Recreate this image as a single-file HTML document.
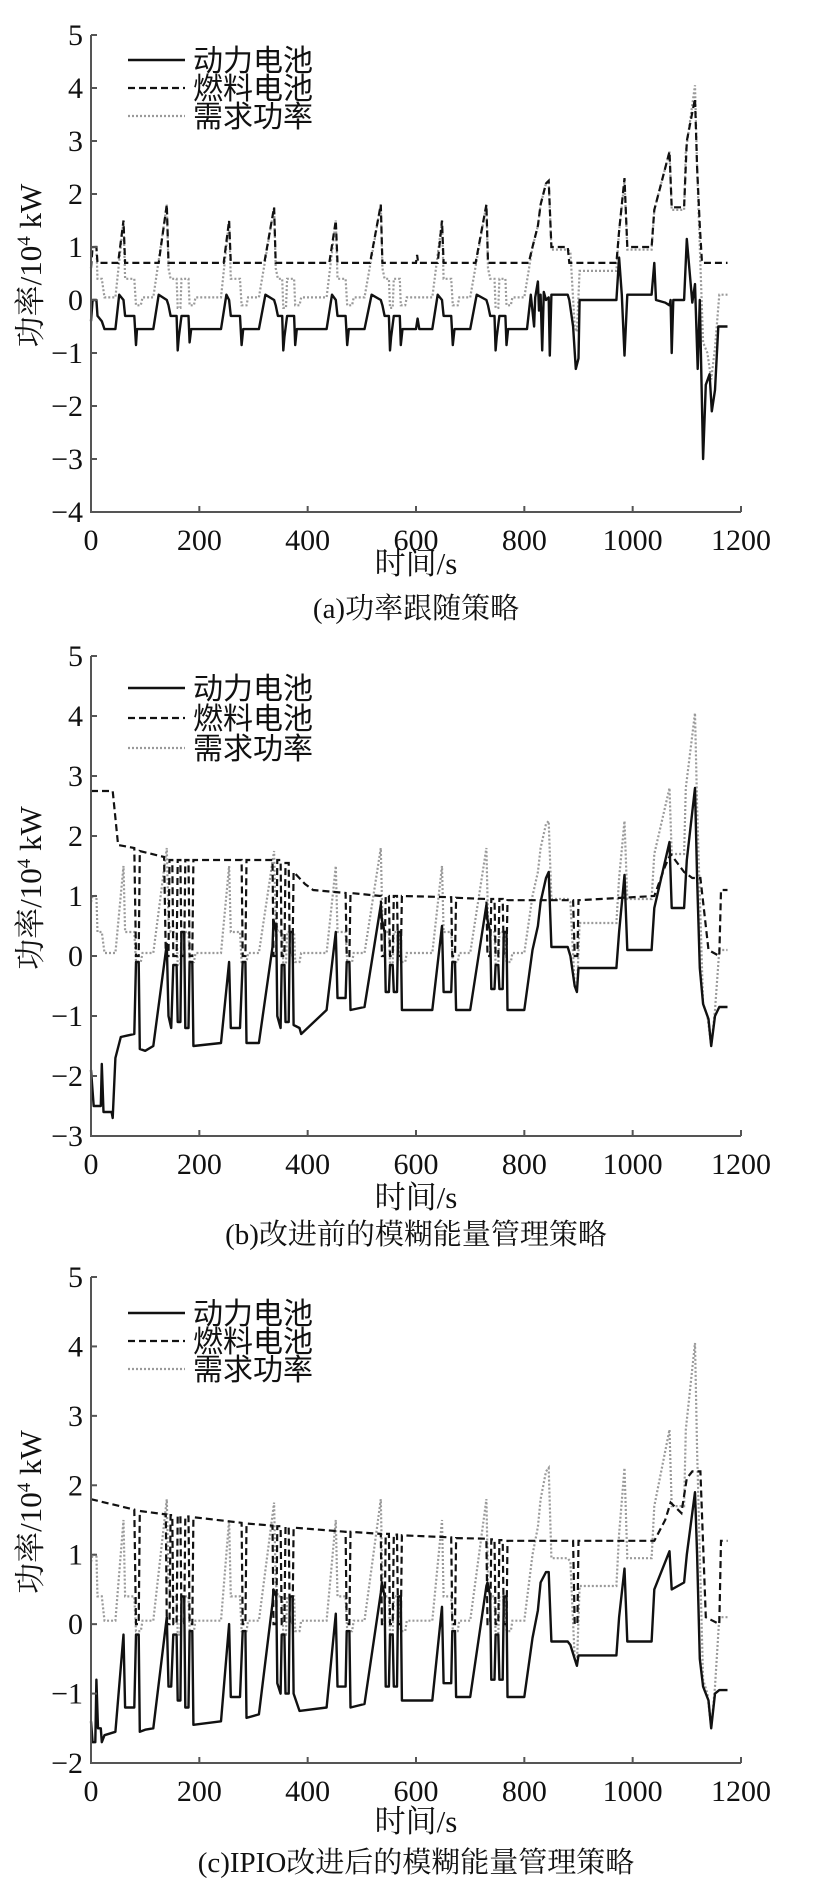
<!DOCTYPE html>
<html><head><meta charset="utf-8">
<style>
html,body{margin:0;padding:0;background:#fff;}
svg{display:block;}
text{font-family:"Liberation Serif","Noto Serif CJK SC","Noto Sans CJK SC",serif;fill:#111;}
</style></head>
<body>
<svg id="fig" width="838" height="1889" viewBox="0 0 838 1889" xmlns="http://www.w3.org/2000/svg"></svg>
<script>
const xTicks = [0,200,400,600,800,1000,1200];
const yTicksA = [-4,-3,-2,-1,0,1,2,3,4,5];
const yTicksB = [-3,-2,-1,0,1,2,3,4,5];
const yTicksC = [-2,-1,0,1,2,3,4,5];
const legendLabels = ["动力电池","燃料电池","需求功率"];
const captions = ["(a)功率跟随策略","(b)改进前的模糊能量管理策略","(c)IPIO改进后的模糊能量管理策略"];

const demand = [[0,0.9],[3,1.0],[10,1.0],[12,0.4],[20,0.4],[25,0.05],[45,0.05],[60,1.5],[63,0.4],[80,0.4],[83,-0.1],[92,-0.1],[95,0.05],[115,0.05],[140,1.8],[143,0.6],[147,0.4],[158,0.4],[160,-0.15],[165,-0.15],[167,0.4],[180,0.4],[182,-0.1],[190,-0.1],[193,0.05],
[240,0.05],[255,1.5],[258,0.4],[275,0.4],[278,-0.1],[287,-0.1],[290,0.05],[310,0.05],[338,1.75],[341,0.6],[345,0.4],[353,0.4],[355,-0.15],[360,-0.15],[362,0.4],[375,0.4],[377,-0.1],[385,-0.1],[388,0.05],
[435,0.05],[452,1.5],[455,0.4],[470,0.4],[473,-0.1],[482,-0.1],[485,0.05],[505,0.05],[535,1.8],[538,0.6],[542,0.4],[550,0.4],[552,-0.15],[557,-0.15],[559,0.4],[570,0.4],[572,-0.1],[580,-0.1],[583,0.05],
[630,0.05],[648,1.5],[651,0.4],[665,0.4],[668,-0.1],[677,-0.1],[680,0.05],[700,0.05],[730,1.8],[733,0.6],[737,0.4],[745,0.4],[747,-0.15],[752,-0.15],[754,0.4],[765,0.4],[767,-0.1],[775,-0.1],[778,0.05],[800,0.05],
[815,1.0],[825,1.4],[830,1.8],[840,2.2],[845,2.25],[850,0.95],[880,0.95],[885,0.9],[893,-0.5],[897,-0.6],[902,0.55],[970,0.55],[975,1.3],[985,2.25],[990,0.95],[1035,0.95],[1040,1.7],[1068,2.8],[1072,1.7],[1095,1.7],[1098,2.8],[1115,4.05],[1119,2.5],[1124,1.0],[1130,-0.8],[1138,-1.0],[1145,-1.5],[1152,-0.9],[1160,0.1],[1175,0.1]];

const fuelA = [[0,0.6],[3,1.0],[10,1.0],[12,0.7],[50,0.7],[60,1.5],[63,0.7],[125,0.7],[140,1.8],[143,0.7],[245,0.7],[255,1.5],[258,0.7],[320,0.7],[338,1.75],[341,0.7],[440,0.7],[452,1.5],[455,0.7],[515,0.7],[535,1.8],[538,0.7],[600,0.7],[602,0.85],[604,0.7],[640,0.7],[648,1.5],[651,0.7],[710,0.7],[730,1.8],[733,0.7],[808,0.7],[815,1.0],[825,1.4],[830,1.8],[840,2.2],[845,2.25],[850,1.0],[880,1.0],[883,0.7],[970,0.7],[975,1.3],[985,2.3],[990,1.0],[1035,1.0],[1040,1.7],[1068,2.8],[1072,1.75],[1095,1.75],[1100,3.0],[1115,3.8],[1119,2.5],[1124,1.4],[1128,0.7],[1175,0.7]];

const batteryA = [[0,-0.4],[3,0],[10,0],[12,-0.3],[20,-0.4],[25,-0.55],[45,-0.55],[52,0.1],[60,0.0],[63,-0.3],[80,-0.3],[83,-0.85],[85,-0.55],[115,-0.55],[125,0.1],[140,0.0],[143,-0.1],[147,-0.3],[158,-0.3],[160,-0.95],[162,-0.7],[167,-0.3],[180,-0.3],[182,-0.8],[185,-0.55],[240,-0.55],[250,0.1],[255,0],[258,-0.3],[275,-0.3],[278,-0.85],[281,-0.55],[310,-0.55],[322,0.1],[338,0.0],[341,-0.1],[345,-0.3],[353,-0.3],[355,-0.95],[357,-0.7],[362,-0.3],[375,-0.3],[377,-0.85],[380,-0.55],[435,-0.55],[445,0.1],[452,0],[455,-0.3],[470,-0.3],[473,-0.85],[476,-0.55],[505,-0.55],[518,0.1],[535,0],[538,-0.1],[542,-0.3],[550,-0.3],[552,-0.95],[554,-0.7],[559,-0.3],[570,-0.3],[572,-0.85],[575,-0.55],[600,-0.55],[603,-0.35],[606,-0.55],[630,-0.55],[640,0.1],[648,0],[651,-0.3],[665,-0.3],[668,-0.85],[671,-0.55],[700,-0.55],[712,0.1],[730,0],[733,-0.1],[737,-0.3],[745,-0.3],[747,-0.95],[749,-0.7],[754,-0.3],[765,-0.3],[767,-0.85],[770,-0.55],[805,-0.55],[812,0.1],[818,-0.5],[820,0.05],[825,0.35],[827,-0.2],[830,0.1],[833,-0.95],[836,0.15],[840,0.0],[845,0.05],[847,-1.05],[850,0.1],[880,0.1],[883,0.0],[890,-0.5],[895,-1.3],[900,-1.1],[902,0],[970,0],[975,0.8],[980,0.1],[985,-1.05],[990,0.1],[1035,0.1],[1040,0.7],[1043,0],[1060,-0.05],[1068,-0.1],[1070,0],[1072,-1.0],[1075,0],[1095,0],[1100,1.15],[1110,-0.05],[1115,0.3],[1120,-1.3],[1124,0],[1130,-3.0],[1135,-1.6],[1142,-1.4],[1146,-2.1],[1152,-1.7],[1158,-0.5],[1175,-0.5]];

const fuelB = [[0,2.75],[40,2.75],[50,1.85],[80,1.8],[83,0],[88,0],[90,1.75],[135,1.65],[138,0],[143,0],[145,1.6],[150,1.6],[152,0],[158,0],[160,1.6],[165,1.6],[167,0],[172,0],[174,1.6],[180,1.6],[182,0],[187,0],[189,1.6],[278,1.6],[280,0],[285,0],[287,1.6],[335,1.6],[337,0],[342,0],[344,1.6],[350,1.6],[352,0],[357,0],[359,1.55],[365,1.55],[367,0],[372,0],[374,1.4],[395,1.2],[410,1.1],[470,1.05],[472,0],[477,0],[479,1.05],[535,1.0],[537,0],[542,0],[544,1.0],[550,1.0],[552,0],[557,0],[559,1.0],[565,1.0],[567,0],[572,0],[574,1.0],[665,0.98],[667,0],[672,0],[674,0.97],[730,0.95],[732,0],[737,0],[739,0.95],[745,0.95],[747,0],[752,0],[754,0.95],[760,0.95],[762,0],[767,0],[769,0.93],[890,0.93],[893,0],[898,0],[900,0.93],[1040,1.0],[1060,1.5],[1070,1.7],[1095,1.4],[1110,1.3],[1125,1.3],[1140,0.1],[1160,0],[1163,1.1],[1175,1.1]];

const batteryB = [[0,-1.9],[5,-2.5],[18,-2.5],[20,-1.8],[23,-2.6],[38,-2.6],[40,-2.7],[45,-1.7],[55,-1.35],[80,-1.3],[83,-0.1],[88,-0.1],[90,-1.55],[100,-1.58],[115,-1.5],[140,0.2],[143,-1.0],[148,-1.2],[152,-0.15],[158,-0.15],[160,-1.1],[165,-1.1],[167,0.4],[172,0.4],[174,-1.2],[180,-1.2],[182,-0.1],[187,-0.1],[189,-1.5],[240,-1.45],[255,-0.1],[258,-1.2],[275,-1.2],[280,-0.1],[285,-0.1],[287,-1.45],[310,-1.45],[335,0.15],[337,0.6],[342,0.4],[344,-1.0],[350,-1.2],[352,-0.15],[357,-0.15],[359,-1.1],[365,-1.1],[367,0.4],[372,0.4],[374,-1.15],[385,-1.2],[388,-1.3],[435,-0.9],[452,0.4],[455,-0.7],[470,-0.7],[472,-0.1],[477,-0.1],[479,-0.9],[505,-0.85],[535,0.85],[537,0.6],[542,0.4],[544,-0.6],[550,-0.6],[552,-0.15],[557,-0.15],[559,-0.6],[565,-0.6],[567,0.4],[572,0.4],[574,-0.9],[630,-0.9],[648,0.5],[651,-0.6],[665,-0.6],[667,-0.1],[672,-0.1],[674,-0.9],[700,-0.9],[730,0.85],[732,0.6],[737,0.4],[739,-0.55],[745,-0.55],[747,-0.15],[752,-0.15],[754,-0.55],[760,-0.55],[762,0.4],[767,0.4],[769,-0.9],[800,-0.9],[815,0.1],[825,0.5],[830,0.9],[840,1.3],[845,1.4],[850,0.15],[880,0.15],[885,0.0],[893,-0.5],[897,-0.6],[900,-0.2],[970,-0.2],[975,0.4],[985,1.35],[990,0.1],[1035,0.1],[1040,0.8],[1068,1.9],[1072,0.8],[1095,0.8],[1100,1.6],[1115,2.8],[1119,1.3],[1124,-0.2],[1130,-0.8],[1140,-1.05],[1145,-1.5],[1152,-1.0],[1160,-0.85],[1175,-0.85]];

const fuelC = [[0,1.8],[80,1.65],[83,0],[88,0],[90,1.63],[138,1.58],[140,0],[145,0],[147,1.57],[150,1.57],[152,0],[158,0],[160,1.56],[165,1.56],[167,0],[172,0],[174,1.55],[180,1.55],[182,0],[187,0],[189,1.54],[278,1.46],[280,0],[285,0],[287,1.45],[335,1.42],[337,0],[342,0],[344,1.41],[350,1.41],[352,0],[357,0],[359,1.4],[365,1.4],[367,0],[372,0],[374,1.39],[470,1.33],[472,0],[477,0],[479,1.33],[535,1.3],[537,0],[542,0],[544,1.3],[550,1.3],[552,0],[557,0],[559,1.29],[565,1.29],[567,0],[572,0],[574,1.28],[665,1.25],[667,0],[672,0],[674,1.24],[730,1.23],[732,0],[737,0],[739,1.22],[745,1.22],[747,0],[752,0],[754,1.21],[760,1.21],[762,0],[767,0],[769,1.2],[890,1.2],[893,0],[898,0],[900,1.2],[1040,1.2],[1060,1.5],[1070,1.75],[1090,1.6],[1100,2.1],[1110,2.2],[1125,2.2],[1135,0.1],[1160,0],[1163,1.2],[1175,1.2]];

const batteryC = [[0,-1.4],[3,-1.7],[8,-1.7],[10,-0.8],[13,-1.5],[18,-1.5],[20,-1.7],[25,-1.6],[45,-1.55],[60,-0.15],[63,-1.2],[80,-1.2],[83,-0.15],[88,-0.15],[90,-1.55],[100,-1.52],[115,-1.5],[140,0.1],[143,-0.9],[148,-0.9],[152,-0.15],[158,-0.15],[160,-1.1],[165,-1.1],[167,0.4],[172,0.4],[174,-1.2],[180,-1.2],[182,-0.1],[187,-0.1],[189,-1.45],[240,-1.4],[255,0],[258,-1.05],[275,-1.05],[280,-0.1],[285,-0.1],[287,-1.35],[310,-1.3],[335,0.3],[337,0.5],[342,0.4],[344,-0.85],[350,-1.0],[352,-0.15],[357,-0.15],[359,-1.0],[365,-1.0],[367,0.4],[372,0.4],[374,-1.0],[385,-1.25],[435,-1.2],[452,0.15],[455,-0.9],[470,-0.9],[472,-0.1],[477,-0.1],[479,-1.2],[505,-1.15],[535,0.45],[537,0.6],[542,0.4],[544,-0.9],[550,-0.9],[552,-0.15],[557,-0.15],[559,-0.9],[565,-0.9],[567,0.4],[572,0.4],[574,-1.1],[630,-1.1],[648,0.25],[651,-0.85],[665,-0.85],[667,-0.1],[672,-0.1],[674,-1.05],[700,-1.05],[730,0.55],[732,0.6],[737,0.4],[739,-0.8],[745,-0.8],[747,-0.15],[752,-0.15],[754,-0.8],[760,-0.8],[762,0.4],[767,0.4],[769,-1.05],[800,-1.05],[815,-0.2],[825,0.2],[830,0.6],[840,0.75],[845,0.75],[850,-0.25],[880,-0.25],[885,-0.3],[893,-0.5],[897,-0.6],[900,-0.45],[970,-0.45],[975,0.1],[985,0.8],[990,-0.25],[1035,-0.25],[1040,0.5],[1068,1.05],[1072,0.5],[1095,0.6],[1100,1.0],[1115,1.9],[1119,1.0],[1124,-0.5],[1130,-0.9],[1140,-1.1],[1145,-1.5],[1152,-1.0],[1160,-0.95],[1175,-0.95]];

const NS = "http://www.w3.org/2000/svg";
const svg = document.getElementById("fig");
function mk(tag, attrs, parent){
  const e = document.createElementNS(NS, tag);
  for (const k in attrs) e.setAttribute(k, attrs[k]);
  (parent||svg).appendChild(e);
  return e;
}
const panels = [
  {id:"a", top:35, bottom:512, ymin:-4, ymax:5, ticks:yTicksA, bat:batteryA, fuel:fuelA, leg:[60,88,116], xt:574, cap:618},
  {id:"b", top:656, bottom:1136, ymin:-3, ymax:5, ticks:yTicksB, bat:batteryB, fuel:fuelB, leg:[688,718,748], xt:1208, cap:1244},
  {id:"c", top:1277, bottom:1763, ymin:-2, ymax:5, ticks:yTicksC, bat:batteryC, fuel:fuelC, leg:[1313,1341,1369], xt:1832, cap:1872}
];
const X0 = 91, X1 = 741;
panels.forEach(p => {
  const g = mk("g", {});
  
  
  const xs = t => X0 + (t/1200)*(X1-X0);
  const ys = v => p.bottom - (v - p.ymin)/(p.ymax - p.ymin)*(p.bottom - p.top);
  const line = (data, attrs, name) => {
    const d = data.map((q,i)=>(i?"L":"M")+xs(q[0]).toFixed(1)+" "+ys(q[1]).toFixed(1)).join("");
    const el = mk("path", Object.assign({d:d, fill:"none"}, attrs), g);
    
    
  };
  line(demand, {stroke:"#9a9a9a","stroke-width":2.2,"stroke-dasharray":"2 2"}, 'demand-power-line');
  line(p.fuel, {stroke:"#111","stroke-width":2.2,"stroke-dasharray":"7 4"}, 'fuel-cell-line');
  line(p.bat, {stroke:"#111","stroke-width":2.4,"stroke-linejoin":"round"}, 'battery-line');
  const ax = mk("path", {d:`M${X0} ${p.top}V${p.bottom}H${X1}`, stroke:"#555","stroke-width":2, fill:"none"}, g);
  
  
  p.ticks.forEach(v => {
    const y = ys(v);
    const tk = mk("line", {x1:X0, x2:X0+6, y1:y, y2:y, stroke:"#555","stroke-width":2}, g);
    
    
    const t = mk("text", {x:83, y:y+10, "text-anchor":"end","font-size":30}, g);
    t.textContent = v < 0 ? "\u2212" + Math.abs(v) : String(v);
    
    
  });
  xTicks.forEach(v => {
    const x = xs(v);
    const tk = mk("line", {x1:x, x2:x, y1:p.bottom, y2:p.bottom-6, stroke:"#555","stroke-width":2}, g);
    
    
    const t = mk("text", {x:x, y:p.bottom+38, "text-anchor":"middle","font-size":30}, g);
    t.textContent = String(v);
    
    
  });
  const cy = (p.top + p.bottom)/2 - 8;
  const yt = mk("text", {x:0, y:0, transform:`translate(41 ${cy}) rotate(-90)`, "text-anchor":"middle","font-size":31}, g);
  yt.innerHTML = '功率/10<tspan dy="-11" font-size="19">4</tspan><tspan dy="11"> kW</tspan>';
  
  
  const xt = mk("text", {x:416, y:p.xt, "text-anchor":"middle","font-size":31}, g);
  xt.textContent = "时间/s";
  
  
  const cap = mk("text", {x:416, y:p.cap, "text-anchor":"middle","font-size":29}, g);
  cap.textContent = captions[panels.indexOf(p)];
  
  
  const styles = [
    {stroke:"#111","stroke-width":2.4},
    {stroke:"#111","stroke-width":2.2,"stroke-dasharray":"7 4"},
    {stroke:"#9a9a9a","stroke-width":2.2,"stroke-dasharray":"2 2"}
  ];
  legendLabels.forEach((lab,i) => {
    const y = p.leg[i];
    const ln = mk("line", Object.assign({x1:128, x2:185, y1:y, y2:y}, styles[i]), g);
    
    
    const t = mk("text", {x:193, y:y+11, "font-size":30, style:'font-family:"Liberation Sans","Noto Sans CJK SC",sans-serif'}, g);
    t.textContent = lab;
    
    
  });
});
</script>
</body></html>
